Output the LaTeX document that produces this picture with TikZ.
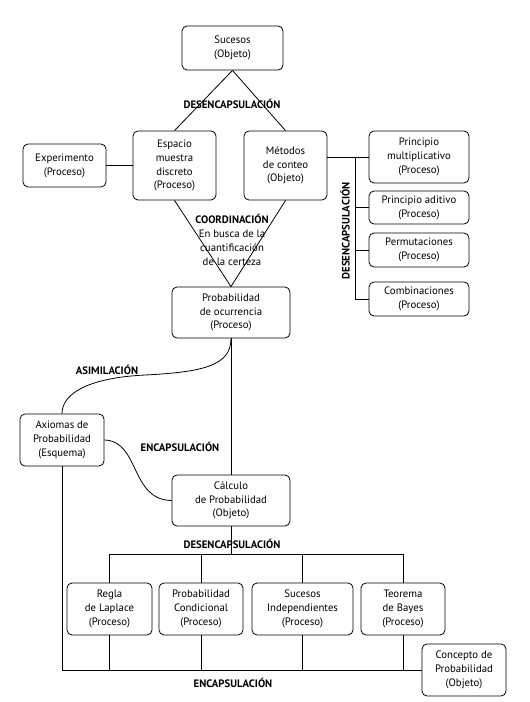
\documentclass[tikz,border=0pt]{standalone}
\usepackage{fontspec}
\setmainfont{PT Sans}
\begin{document}
\begin{tikzpicture}[x=1bp,y=-1bp,
  box/.style={draw,rounded corners=5bp,align=center,inner sep=0pt,font=\fontsize{10.8}{13.8}\selectfont,line width=0.8bp},
  lbl/.style={font=\fontsize{10.8}{14}\selectfont\bfseries,inner sep=0pt},
  every path/.style={line width=0.8bp}]
\useasboundingbox (0,0) rectangle (530,702);
% boxes
\node[box,minimum width=101bp,minimum height=44bp] (suc) at (232.5,48) {Sucesos\\(Objeto)};
\node[box,minimum width=83bp,minimum height=69bp] (esp) at (174.5,165.5) {Espacio\\muestra\\discreto\\(Proceso)};
\node[box,minimum width=83bp,minimum height=69bp] (met) at (285.5,165.5) {Métodos\\de conteo\\(Objeto)};
\node[box,minimum width=83bp,minimum height=43bp] (exp) at (64.5,165.5) {Experimento\\(Proceso)};
\node[box,minimum width=100bp,minimum height=52bp] (pm) at (419,157) {Principio\\multiplicativo\\(Proceso)};
\node[box,minimum width=100bp,minimum height=33bp] (pa) at (419,207.5) {Principio aditivo\\(Proceso)};
\node[box,minimum width=100bp,minimum height=34bp] (per) at (419,250) {Permutaciones\\(Proceso)};
\node[box,minimum width=100bp,minimum height=34bp] (com) at (419,299) {Combinaciones\\(Proceso)};
\node[box,minimum width=118bp,minimum height=51bp] (poc) at (231,312.5) {Probabilidad\\de ocurrencia\\(Proceso)};
\node[box,minimum width=84bp,minimum height=52bp] (axi) at (62,440) {Axiomas de\\Probabilidad\\(Esquema)};
\node[box,minimum width=118bp,minimum height=51bp] (cal) at (231,500.5) {Cálculo\\de Probabilidad\\(Objeto)};
\node[box,minimum width=85bp,minimum height=52bp] (reg) at (109.5,609) {Regla\\de Laplace\\(Proceso)};
\node[box,minimum width=84bp,minimum height=52bp] (con) at (201,609) {Probabilidad\\Condicional\\(Proceso)};
\node[box,minimum width=101bp,minimum height=52bp] (ind) at (302.5,609) {Sucesos\\Independientes\\(Proceso)};
\node[box,minimum width=84bp,minimum height=52bp] (teo) at (403,609) {Teorema\\de Bayes\\(Proceso)};
\node[box,minimum width=84bp,minimum height=52bp] (cpt) at (464,670) {Concepto de\\Probabilidad\\(Objeto)};
% labels
\node[lbl] (l1) at (232,104) {DESENCAPSULACIÓN};
\node[align=center,inner sep=0pt,font=\fontsize{10.8}{14}\selectfont] (l2) at (232,240) {\textbf{COORDINACIÓN}\\En busca de la\\cuantificación\\de la certeza};
\node[lbl,rotate=90] (l3) at (345,231) {DESENCAPSULACIÓN};
\node[lbl] (l4) at (107,370) {ASIMILACIÓN};
\node[lbl] (l5) at (180,447) {ENCAPSULACIÓN};
\node[lbl] (l6) at (232,544) {DESENCAPSULACIÓN};
\node[lbl] (l7) at (233,683) {ENCAPSULACIÓN};
% coordinates
\coordinate (br) at (355,157);
\coordinate (bus) at (231,554);
% connectors
\draw (suc.south) -- (esp.north);
\draw (suc.south) -- (met.north);
\draw (exp.east) -- (esp.west);
\draw (pm.west -| met.east) -- (pm.west);
\draw (br) -- (br |- com.west) -- (com.west);
\draw (br |- pa.west) -- (pa.west);
\draw (br |- per.west) -- (per.west);
\draw (esp.south) -- (poc.north);
\draw (met.south) -- (poc.north);
\draw (poc.south) -- (cal.north);
\draw (poc.south) .. controls (231,365) and (205,372) .. (145,375) .. controls (85,378) and (62,395) .. (axi.north);
\draw (axi.east) .. controls (140,441) and (130,500) .. (cal.west);
\draw (cal.south) -- (bus);
\draw (reg.north) -- (reg.north |- bus) -- (teo.north |- bus) -- (teo.north);
\draw (con.north) -- (con.north |- bus);
\draw (ind.north) -- (ind.north |- bus);
\draw (axi.south) |- (cpt.west);
\draw (reg.south) -- (reg.south |- cpt.west);
\draw (con.south) -- (con.south |- cpt.west);
\draw (ind.south) -- (ind.south |- cpt.west);
\draw (teo.south) -- (teo.south |- cpt.west);
\end{tikzpicture}
\end{document}
